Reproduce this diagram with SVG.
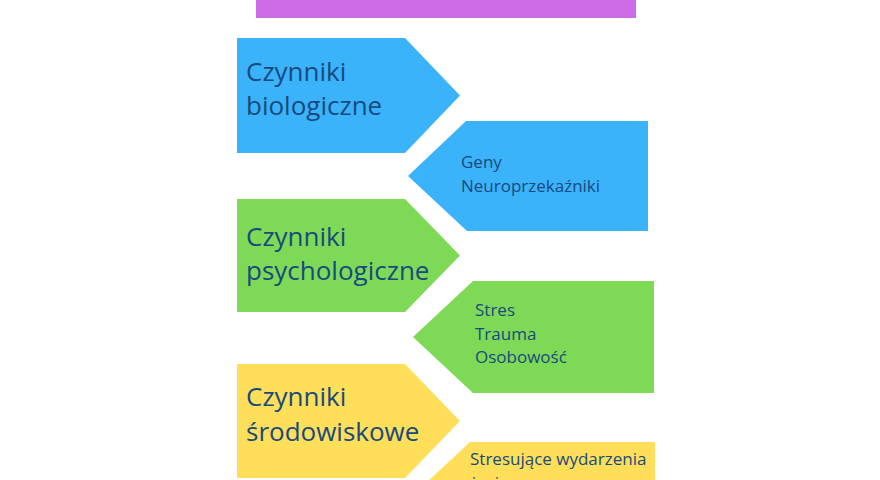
<svg xmlns="http://www.w3.org/2000/svg" width="880" height="480" viewBox="0 0 880 480">
<style>
.big{font-family:"Open Sans","Liberation Sans",sans-serif;font-size:26px;fill:#174a7e}
.small{font-family:"Open Sans","Liberation Sans",sans-serif;font-size:17px;fill:#174a7e}
.blue{fill:#3ab3fb}
.green{fill:#7ed957}
.yellow{fill:#ffde59}
</style>
<rect width="880" height="480" fill="#ffffff"/>
<g id="header"><rect x="256" y="0" width="380" height="18" fill="#cb6ce6"/></g>
<g id="bio">
<polygon class="blue" points="237,38 405,38 460,95.5 405,153 237,153"/>
<text class="big" x="246" y="81">Czynniki</text>
<text class="big" x="246" y="115">biologiczne</text>
</g>
<g id="bio-details">
<polygon class="blue" points="648,121 466,121 408,176 467,231 648,231"/>
<text class="small" x="461" y="168">Geny</text>
<text class="small" x="461" y="192">Neuroprzekaźniki</text>
</g>
<g id="psych">
<polygon class="green" points="237,199 405,199 460,255.5 405,312 237,312"/>
<text class="big" x="246" y="246">Czynniki</text>
<text class="big" x="246" y="280">psychologiczne</text>
</g>
<g id="psych-details">
<polygon class="green" points="654,281 473,281 413,337 473,393 654,393"/>
<text class="small" x="475" y="316">Stres</text>
<text class="small" x="475" y="340">Trauma</text>
<text class="small" x="475" y="363">Osobowość</text>
</g>
<g id="env">
<polygon class="yellow" points="237,364 405,364 460,421 405,478 237,478"/>
<text class="big" x="246" y="406">Czynniki</text>
<text class="big" x="246" y="441">środowiskowe</text>
</g>
<g id="env-details">
<polygon class="yellow" points="655,442 470,442 410,498 470,554 655,554"/>
<text class="small" x="470" y="465">Stresujące wydarzenia</text>
<text class="small" x="470" y="489">życiowe</text>
</g>
<g id="connectors"></g>
</svg>
